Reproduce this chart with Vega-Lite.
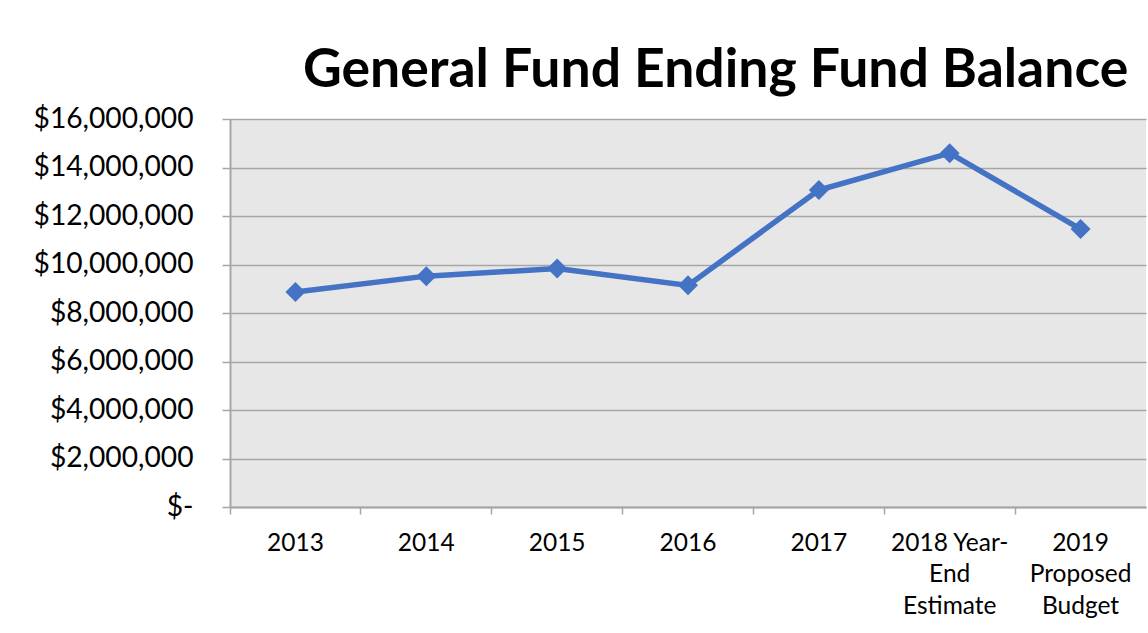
{
  "$schema": "https://vega.github.io/schema/vega-lite/v6.json",
  "autosize": {"type": "none"},
  "width": 916,
  "height": 388,
  "padding": {"left": 230, "top": 119, "right": 2, "bottom": 126},
  "background": "#ffffff",
  "title": {
    "text": "General Fund Ending Fund Balance",
    "font": "Lato",
    "fontWeight": "bold",
    "fontSize": 53.5,
    "color": "#000000",
    "anchor": "start",
    "frame": "group",
    "dx": 73,
    "baseline": "alphabetic",
    "offset": -36
  },
  "data": {
    "values": [
      {"year": "2013", "balance": 8870000},
      {"year": "2014", "balance": 9520000},
      {"year": "2015", "balance": 9830000},
      {"year": "2016", "balance": 9140000},
      {"year": "2017", "balance": 13070000},
      {"year": "2018 Year-\nEnd\nEstimate", "balance": 14590000},
      {"year": "2019\nProposed\nBudget", "balance": 11460000}
    ]
  },
  "config": {
    "view": {"fill": "#e7e7e7", "stroke": null},
    "font": "Lato"
  },
  "encoding": {
    "x": {
      "field": "year",
      "type": "nominal",
      "sort": null,
      "scale": {"type": "band", "paddingInner": 0, "paddingOuter": 0},
      "axis": {
        "title": null,
        "labelAngle": 0,
        "labelFont": "Lato",
        "labelFontSize": 24.5,
        "labelColor": "#000000",
        "labelExpr": "split(datum.label, '\\n')",
        "labelLineHeight": 31.5,
        "labelBaseline": "top",
        "labelPadding": 17,
        "bandPosition": 0,
        "ticks": true,
        "tickSize": 7,
        "tickColor": "#a6a6a6",
        "tickWidth": 1.5,
        "domainColor": "#a6a6a6",
        "domainWidth": 2,
        "grid": false
      }
    },
    "y": {
      "field": "balance",
      "type": "quantitative",
      "scale": {"domain": [0, 16000000], "nice": false},
      "axis": {
        "title": null,
        "values": [0, 2000000, 4000000, 6000000, 8000000, 10000000, 12000000, 14000000, 16000000],
        "labelExpr": "datum.value == 0 ? '$-' : '$' + format(datum.value, ',')",
        "labelFont": "Lato",
        "labelFontSize": 28.2,
        "labelColor": "#000000",
        "labelPadding": 29,
        "tickSize": 8,
        "tickColor": "#a6a6a6",
        "tickWidth": 1.5,
        "domainColor": "#a6a6a6",
        "domainWidth": 2,
        "grid": true,
        "gridColor": "#a6a6a6",
        "gridWidth": 1.5
      }
    }
  },
  "layer": [
    {
      "mark": {"type": "line", "color": "#4472c4", "strokeWidth": 5.5}
    },
    {
      "mark": {"type": "point", "shape": "diamond", "filled": true, "color": "#4472c4", "size": 400, "opacity": 1}
    }
  ]
}
